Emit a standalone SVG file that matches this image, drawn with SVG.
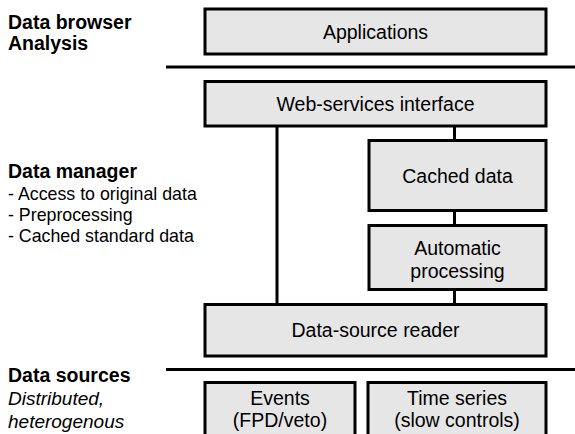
<svg xmlns="http://www.w3.org/2000/svg" width="575" height="434" viewBox="0 0 575 434">
<style>
  .box { fill: #e6e6e6; stroke: #000; stroke-width: 3; }
  .ln { stroke: #000; stroke-width: 3; fill: none; }
  text { font-family: "Liberation Sans", Arial, sans-serif; font-size: 19.5px; fill: #000; }
  .c { text-anchor: middle; }
  .b { font-weight: bold; }
  .i { font-style: italic; font-size: 19px; }
  .s { font-size: 17.8px; }
</style>
<rect width="575" height="434" fill="#fff"/>
<g id="labels">
  <text class="b" x="8" y="28.5">Data browser</text>
  <text class="b" x="8" y="50">Analysis</text>
  <text class="b" x="8" y="178">Data manager</text>
  <text class="s" x="8" y="199.5">- Access to original data</text>
  <text class="s" x="8" y="220.5">- Preprocessing</text>
  <text class="s" x="8" y="241.5">- Cached standard data</text>
  <text class="b" x="8" y="382">Data sources</text>
  <text class="i" x="8" y="405">Distributed,</text>
  <text class="i" x="8" y="428">heterogenous</text>
</g>
<g id="separators">
  <line class="ln" x1="166" y1="67" x2="575" y2="67"/>
  <line class="ln" x1="166" y1="369.5" x2="575" y2="369.5"/>
</g>
<g id="connectors">
  <line class="ln" x1="277" y1="126" x2="277" y2="304.5"/>
  <line class="ln" x1="454.5" y1="126" x2="454.5" y2="140.5"/>
  <line class="ln" x1="454.5" y1="210.5" x2="454.5" y2="225.5"/>
  <line class="ln" x1="454.5" y1="289.5" x2="454.5" y2="304.5"/>
</g>
<g id="applications">
  <rect class="box" x="205" y="9" width="341" height="45"/>
  <text class="c" x="375.5" y="38.5">Applications</text>
</g>
<g id="web-services">
  <rect class="box" x="205" y="81.5" width="341" height="44.5"/>
  <text class="c" x="375.5" y="110.5">Web-services interface</text>
</g>
<g id="cached-data">
  <rect class="box" x="369" y="140.5" width="177" height="70"/>
  <text class="c" x="457.5" y="182.5">Cached data</text>
</g>
<g id="automatic-processing">
  <rect class="box" x="369" y="225.5" width="177" height="64"/>
  <text class="c" x="457.5" y="254.5">Automatic</text>
  <text class="c" x="457.5" y="278">processing</text>
</g>
<g id="data-source-reader">
  <rect class="box" x="205" y="304.5" width="341" height="51.5"/>
  <text class="c" x="375.5" y="337">Data-source reader</text>
</g>
<g id="events">
  <rect class="box" x="205" y="382.5" width="150" height="70"/>
  <text class="c" x="280" y="404.5">Events</text>
  <text class="c" x="280" y="427">(FPD/veto)</text>
</g>
<g id="time-series">
  <rect class="box" x="368" y="382.5" width="178" height="70"/>
  <text class="c" x="457" y="404.5">Time series</text>
  <text class="c" x="457" y="427">(slow controls)</text>
</g>
</svg>
